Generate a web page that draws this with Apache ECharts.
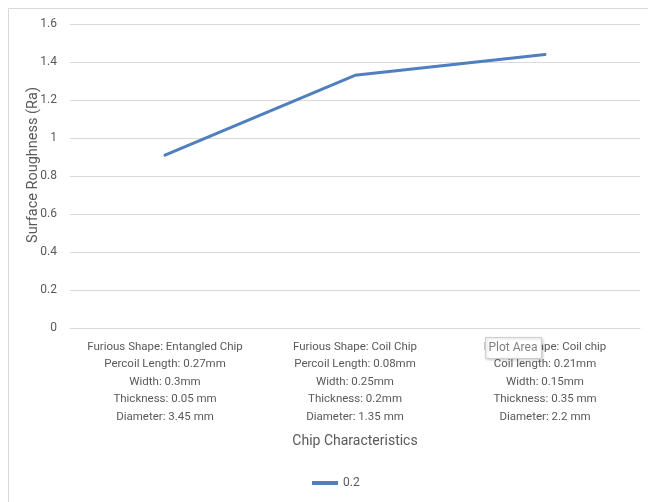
<!DOCTYPE html>
<html>
<head>
<meta charset="utf-8">
<script src="https://cdn.jsdelivr.net/npm/echarts@6/dist/echarts.min.js"></script>
<style>
html, body { margin:0; padding:0; background:#fff; }
#chart { width:648px; height:502px; }
</style>
</head>
<body>
<div id="chart"></div>
<script>
// chip descriptions, one entry per category
var shapes = ['Furious Shape: Entangled Chip', 'Furious Shape: Coil Chip', 'Furious Shape: Coil chip'];
var lengths = ['Percoil Length: 0.27mm', 'Percoil Length: 0.08mm', 'Coil length: 0.21mm'];
var widths = ['Width: 0.3mm', 'Width: 0.25mm', 'Width: 0.15mm'];
var thicknesses = ['Thickness: 0.05 mm', 'Thickness: 0.2mm', 'Thickness: 0.35 mm'];
var diameters = ['Diameter: 3.45 mm', 'Diameter: 1.35 mm', 'Diameter: 2.2 mm'];
var roughness = [0.91, 1.33, 1.44];
var seriesName = '0.2';

var categories = [];
for (var i = 0; i < shapes.length; i++) {
	categories.push([shapes[i], lengths[i], widths[i], thicknesses[i], diameters[i]].join('\n'));
}

var txt = '#595959';
var font = 'Roboto, "Liberation Sans", sans-serif';

var myChart = echarts.init(document.getElementById('chart'));
var option = {
	animation: false,
	textStyle: { fontFamily: font },
	grid: { left: 70, right: 8, top: 24, bottom: 174 },
	legend: {
		data: [seriesName],
		top: 472,
		left: 307,
		itemWidth: 26,
		itemHeight: 4,
		icon: 'rect',
		itemGap: 4,
		textStyle: { color: txt, fontSize: 12, fontFamily: font }
	},
	xAxis: {
		type: 'category',
		data: categories,
		boundaryGap: true,
		name: 'Chip Characteristics',
		nameLocation: 'middle',
		nameGap: 106,
		nameTextStyle: { color: txt, fontSize: 14, fontFamily: font },
		axisLine: { show: true, lineStyle: { color: '#d9d9d9', width: 1 } },
		axisTick: { show: false },
		axisLabel: { color: txt, fontSize: 11.5, lineHeight: 17.5, margin: 10, interval: 0, fontFamily: font }
	},
	yAxis: {
		type: 'value',
		min: 0,
		max: 1.6,
		interval: 0.2,
		name: 'Surface Roughness (Ra)',
		nameLocation: 'middle',
		nameGap: 29,
		nameMoveOverlap: false,
		nameTextStyle: { color: txt, fontSize: 14.5, fontFamily: font, padding: [0, 0, 0, 22] },
		axisLine: { show: false },
		axisTick: { show: false },
		splitLine: { lineStyle: { color: '#d9d9d9', width: 1 } },
		axisLabel: {
			color: txt, fontSize: 12, margin: 13, fontFamily: font,
			formatter: function (v) { return String(Math.round(v * 10) / 10); }
		}
	},
	series: [{
		name: seriesName,
		type: 'line',
		data: roughness,
		symbol: 'none',
		lineStyle: { color: '#4f7fbd', width: 3, cap: 'round', join: 'round' },
		itemStyle: { color: '#4f7fbd' }
	}],
	graphic: [
		// frame of the chart area
		{ type: 'line', shape: { x1: 8.5, y1: 8.5, x2: 648, y2: 8.5 }, style: { stroke: '#d9d9d9', lineWidth: 1 } },
		{ type: 'line', shape: { x1: 8.5, y1: 8.5, x2: 8.5, y2: 502 }, style: { stroke: '#d9d9d9', lineWidth: 1 } },
		// hover tooltip captured in the screenshot
		{
			type: 'group', left: 485, top: 337, z: 100,
			children: [
				{ type: 'rect', z: 100, shape: { x: 0, y: 0, width: 56, height: 21 },
				  style: { fill: '#ffffff', stroke: '#cfcfcf', lineWidth: 1, shadowBlur: 3, shadowColor: 'rgba(0,0,0,0.2)', shadowOffsetX: 1, shadowOffsetY: 1 } },
				{ type: 'text', z: 101, x: 3, y: 4, style: { text: 'Plot Area', fill: '#808080', font: '12px ' + font } }
			]
		}
	]
};
myChart.setOption(option);
</script>
</body>
</html>
